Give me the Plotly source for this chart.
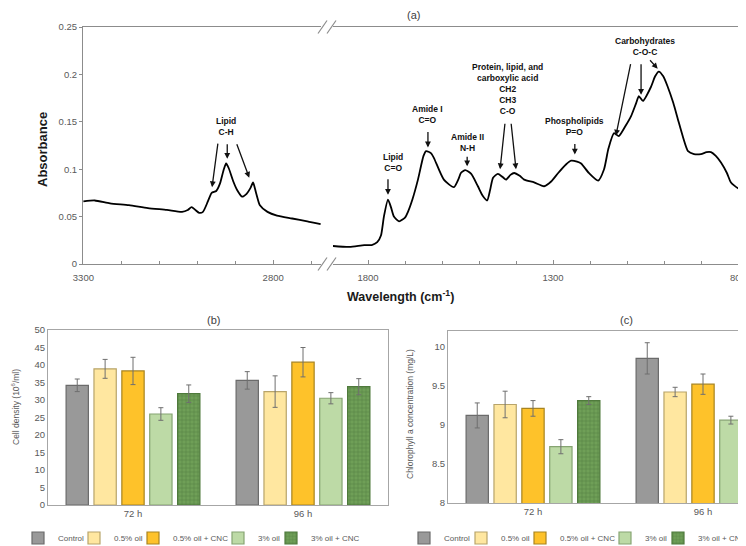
import plotly.graph_objects as go

W, H = 746, 546

# ---------------- (a) FTIR spectrum ----------------
wn_high = [3300, 3270, 3230, 3180, 3130, 3080, 3040, 3025, 3015, 3005, 2995, 2985,
           2972, 2962, 2950, 2940, 2930, 2924, 2917, 2905, 2895, 2882, 2870, 2860,
           2853, 2845, 2835, 2815, 2790, 2750, 2710, 2675]
abs_high = [0.066, 0.067, 0.064, 0.062, 0.059, 0.057, 0.055, 0.057, 0.060, 0.057, 0.054, 0.055,
            0.066, 0.075, 0.077, 0.085, 0.100, 0.106, 0.101, 0.087, 0.078, 0.071, 0.074, 0.080,
            0.086, 0.075, 0.062, 0.055, 0.051, 0.048, 0.045, 0.042]

wn_low = [1895, 1850, 1810, 1790, 1775, 1765, 1757, 1746, 1738, 1730, 1716, 1700, 1692, 1680,
          1665, 1650, 1643, 1630, 1622, 1595, 1568, 1555, 1549, 1537, 1521, 1503, 1490, 1478,
          1470, 1462, 1449, 1437, 1427, 1415, 1405, 1390, 1378, 1351, 1324, 1305, 1286, 1265,
          1251, 1235, 1224, 1203, 1178, 1162, 1150, 1135, 1122, 1105, 1089, 1075, 1068, 1057,
          1035, 1024, 1014, 1002, 990, 975, 962, 948, 935, 919, 900, 885, 873, 860, 846, 830,
          819, 800, 785, 760]
abs_low = [0.019, 0.018, 0.020, 0.020, 0.023, 0.030, 0.050, 0.068, 0.060, 0.050, 0.045, 0.049,
           0.055, 0.068, 0.089, 0.114, 0.119, 0.117, 0.112, 0.089, 0.081, 0.090, 0.096, 0.099,
           0.095, 0.082, 0.072, 0.067, 0.078, 0.091, 0.095, 0.092, 0.089, 0.094, 0.096, 0.093,
           0.089, 0.086, 0.082, 0.087, 0.096, 0.105, 0.109, 0.108, 0.106, 0.096, 0.088, 0.100,
           0.122, 0.138, 0.135, 0.145, 0.156, 0.170, 0.177, 0.172, 0.187, 0.198, 0.203, 0.198,
           0.187, 0.170, 0.152, 0.133, 0.119, 0.116, 0.116, 0.118, 0.118, 0.114, 0.107, 0.096,
           0.086, 0.080, 0.079, 0.079]

# peak labels
band_labels = ["Lipid<br>C-H", "Lipid<br>C=O", "Amide I<br>C=O", "Amide II<br>N-H",
               "Protein, lipid, and<br>carboxylic acid<br>CH2<br>CH3<br>C-O",
               "Phospholipids<br>P=O", "Carbohydrates<br>C-O-C"]
band_label_wn = [2924, 1732, 1638, 1532, 1422, 1241, 1051]
band_label_abs = [0.145, 0.107, 0.1575, 0.128, 0.185, 0.145, 0.229]
band_label_axis = ["x", "x2", "x2", "x2", "x2", "x2", "x2"]

# arrows: head (wavenumber, absorbance), tail offset in px
arrow_wn = [2961, 2921, 2863, 1746, 1638, 1532, 1443, 1400, 1241, 1130, 1062, 1017]
arrow_abs = [0.081, 0.111, 0.091, 0.073, 0.123, 0.103, 0.100, 0.100, 0.1155, 0.1355, 0.1785, 0.206]
arrow_axis = ["x", "x", "x", "x2", "x2", "x2", "x2", "x2", "x2", "x2", "x2", "x2"]
arrow_dx = [6, 0, -13, 0, 0, 0, 5, -5, 0, 15, 0, -9]
arrow_dy = [-45, -16, -35, -17, -17, -11, -47, -47, -12, -73, -32, -10]

# ---------------- (b), (c) bars ----------------
times = ["72 h", "96 h"]
treatments = ["Control", "0.5% oil", "0.5% oil + CNC", "3% oil", "3% oil + CNC"]

density_72h = [34.2, 38.9, 38.3, 26.0, 31.8]
density_err_72h = [1.8, 2.7, 3.9, 1.8, 2.5]
density_96h = [35.6, 32.4, 40.8, 30.5, 33.8]
density_err_96h = [2.5, 4.5, 4.2, 1.6, 2.3]

chl_72h = [9.12, 9.26, 9.21, 8.72, 9.31]
chl_err_72h = [0.16, 0.17, 0.10, 0.09, 0.05]
chl_96h = [9.85, 9.42, 9.52, 9.06, 9.45]
chl_err_96h = [0.20, 0.06, 0.13, 0.05, 0.05]

fill_colors = ["#999999", "#ffe7a0", "#fec22a", "#bddaa6", "#6f9f57"]
edge_colors = ["#6b6b6b", "#b8a46a", "#a88420", "#86a472", "#4f7a3c"]

FONT = "Liberation Sans, Arial, sans-serif"
GRAY = "#595959"
AX = "#8c8c8c"

# page body has an 8px margin: shift everything so it lands where the reference has it
OX, OY = 8, 8


def px(x):
    return (x - OX) / W


def py(y):
    return 1 - (y - OY) / H


fig = go.Figure()

fig.add_trace(go.Scatter(x=wn_high, y=abs_high, xaxis="x", yaxis="y", mode="lines",
                         line=dict(color="black", width=1.8, shape="spline", smoothing=0.6),
                         showlegend=False, hoverinfo="skip"))
fig.add_trace(go.Scatter(x=wn_low, y=abs_low, xaxis="x2", yaxis="y", mode="lines",
                         line=dict(color="black", width=1.8, shape="spline", smoothing=0.6),
                         showlegend=False, hoverinfo="skip"))

# legend symbol centres (px) for the per-item legends
leg_b = [38, 94, 153, 238, 291]
leg_c = [424, 481, 540, 625, 678]


def marker_for(i):
    m = dict(color=fill_colors[i], line=dict(color=edge_colors[i], width=1.2))
    if i == 4:
        m["pattern"] = dict(shape="+", fgcolor="#557f42", bgcolor=fill_colors[i],
                            size=4, solidity=0.25, fillmode="replace")
    return m


for i, name in enumerate(treatments):
    fig.add_trace(go.Bar(
        x=times, y=[density_72h[i], density_96h[i]], name=name,
        xaxis="x3", yaxis="y2", marker=marker_for(i),
        error_y=dict(type="data", array=[density_err_72h[i], density_err_96h[i]],
                     color="#6f6f6f", thickness=1, width=2.5),
        legend="legend" if i == 0 else f"legend{i + 1}", hoverinfo="skip"))
for i, name in enumerate(treatments):
    fig.add_trace(go.Bar(
        x=times, y=[chl_72h[i], chl_96h[i]], name=name,
        xaxis="x4", yaxis="y3", marker=marker_for(i),
        error_y=dict(type="data", array=[chl_err_72h[i], chl_err_96h[i]],
                     color="#6f6f6f", thickness=1, width=2.5),
        legend=f"legend{i + 6}", hoverinfo="skip"))

tickfont = dict(family=FONT, size=9.5, color=GRAY)

# screen px per cm-1 on the right-hand spectrum axis (1800 sits at x=368)
SCALE2 = 0.37

layout = dict(
    width=W, height=H,
    margin=dict(l=0, r=0, t=0, b=0, autoexpand=False),
    paper_bgcolor="white", plot_bgcolor="white",
    font=dict(family=FONT, color=GRAY),
    barmode="group", bargap=0.18, bargroupgap=0.2,
    xaxis=dict(domain=[px(83), px(321)], range=[3301, 2674], anchor="y",
               tick0=300, dtick=500, ticks="inside", ticklen=4, tickcolor=AX,
               minor=dict(dtick=100, tick0=0, ticks="inside", ticklen=3, tickcolor=AX),
               showline=True, linecolor=AX, mirror=True, showgrid=False, zeroline=False,
               tickfont=tickfont, ticklabelstandoff=5),
    xaxis2=dict(domain=[px(333), 1.0],
                range=[1800 + (368 - 333) / SCALE2, 1800 - (W + OX - 368) / SCALE2],
                anchor="y",
                tick0=300, dtick=500, ticks="inside", ticklen=4, tickcolor=AX,
                minor=dict(dtick=100, tick0=0, ticks="inside", ticklen=3, tickcolor=AX),
                showline=True, linecolor=AX, mirror=True, showgrid=False, zeroline=False,
                tickfont=tickfont, ticklabelstandoff=5),
    yaxis=dict(domain=[py(264), py(27)], range=[0, 0.25], dtick=0.05, anchor="x",
               ticks="outside", ticklen=3, tickcolor=AX, showline=True, linecolor=AX,
               showgrid=False, zeroline=False, tickfont=tickfont),
    xaxis3=dict(domain=[px(48), px(388)], anchor="y2", type="category",
                showline=True, linecolor="#a6a6a6", mirror=True, showgrid=False,
                ticks="", tickfont=tickfont),
    yaxis2=dict(domain=[py(505), py(330)], anchor="x3", range=[0, 50], dtick=5,
                showline=True, linecolor="#a6a6a6", mirror=True, showgrid=False,
                zeroline=False, ticks="", tickfont=tickfont),
    xaxis4=dict(domain=[px(448), 1.0], anchor="y3", type="category",
                range=[-0.5, -0.5 + 2 * (W + OX - 448) / 340],
                showline=True, linecolor="#a6a6a6", mirror=True, showgrid=False,
                ticks="", tickfont=tickfont),
    yaxis3=dict(domain=[py(503), py(331)], anchor="x4", range=[8, 10.2], tick0=8, dtick=0.5,
                showline=True, linecolor="#a6a6a6", showgrid=False, zeroline=False,
                ticks="", tickfont=tickfont),
)

for k in range(10):
    key = "legend" if k == 0 else f"legend{k + 1}"
    cx = leg_b[k] if k < 5 else leg_c[k - 5]
    layout[key] = dict(x=px(cx - 20), y=py(538), xanchor="left", yanchor="middle",
                       orientation="h", bgcolor="rgba(0,0,0,0)", borderwidth=0,
                       itemwidth=30, font=dict(family=FONT, size=8, color=GRAY))

fig.update_layout(**layout)


def paper_text(text, x, y, size, color, angle=0, bold=False):
    return dict(text=f"<b>{text}</b>" if bold else text, x=px(x), y=py(y),
                xref="paper", yref="paper", xanchor="center", yanchor="middle",
                textangle=angle, showarrow=False,
                font=dict(family=FONT, size=size, color=color))


ann = []
for t, xx, yy in [("(a)", 413, 15), ("(b)", 213, 320), ("(c)", 626, 320)]:
    ann.append(paper_text(t, xx, yy, 11, "#404040"))
ann.append(paper_text("Wavelength (cm<sup>-1</sup>)", 400, 296, 12.5, "#1a1a1a", bold=True))
ann.append(paper_text("Absorbance", 43, 150, 13, "#1a1a1a", angle=-90, bold=True))
ann.append(paper_text("Cell density (10<sup>6</sup>/ml)", 15, 407, 8.5, GRAY, angle=-90))
ann.append(paper_text("Chlorophyll a concentration (mg/L)", 410, 414, 8.5, GRAY, angle=-90))

for t, w, a, axn in zip(band_labels, band_label_wn, band_label_abs, band_label_axis):
    ann.append(dict(text=f"<b>{t}</b>", x=w, y=a, xref=axn, yref="y", showarrow=False,
                    xanchor="center", yanchor="middle",
                    font=dict(family=FONT, size=8.5, color="#111111")))
for w, a, axn, dx, dy in zip(arrow_wn, arrow_abs, arrow_axis, arrow_dx, arrow_dy):
    ann.append(dict(text="", x=w, y=a, xref=axn, yref="y", ax=dx, ay=dy, showarrow=True,
                    arrowhead=2, arrowsize=0.9, arrowwidth=1.3, arrowcolor="#111111"))
fig.update_layout(annotations=ann)

# axis-break marks
shapes = []
for yb in (27, 264):
    shapes.append(dict(type="rect", xref="paper", yref="paper", x0=px(321), x1=px(333),
                       y0=py(yb + 2), y1=py(yb - 2), fillcolor="white", line=dict(width=0)))
    for x0 in (318, 327):
        shapes.append(dict(type="line", xref="paper", yref="paper", x0=px(x0), y0=py(yb + 6.5),
                           x1=px(x0 + 9), y1=py(yb - 6.5), line=dict(color=AX, width=1.2)))
fig.update_layout(shapes=shapes)

fig.write_html("out.html")
